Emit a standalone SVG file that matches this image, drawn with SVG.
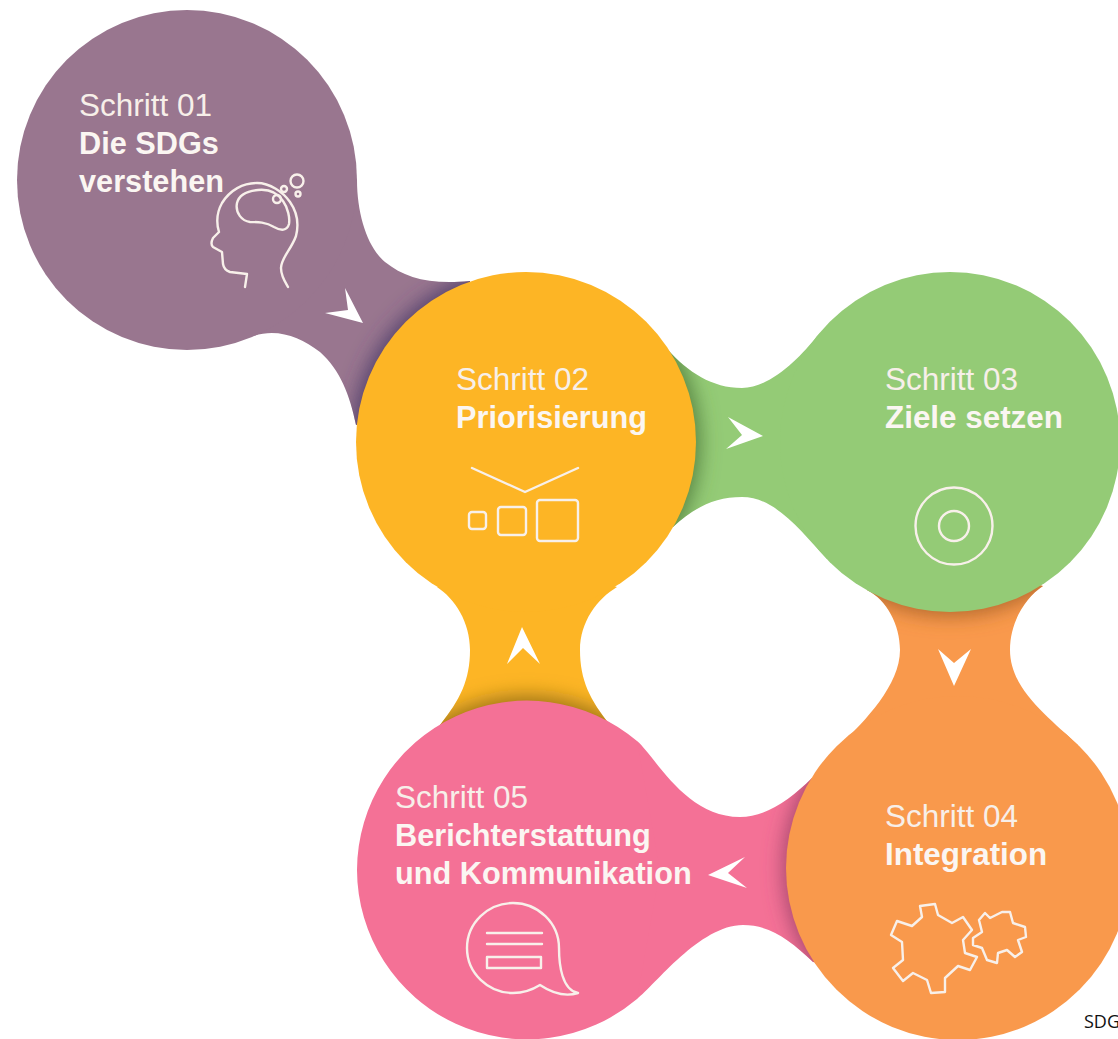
<svg xmlns="http://www.w3.org/2000/svg" width="1118" height="1039" viewBox="0 0 1118 1039">
<style>
.a{fill:#fff}
.ic{fill:none;stroke:#f8f0ea;stroke-width:2.4;stroke-linejoin:round;stroke-linecap:round}
.t{font-family:"Liberation Sans",Arial,sans-serif;font-size:31.5px;fill:#f7efe9}
.b{font-size:30.7px;font-weight:bold;fill:#fbf6f2}
.b2{font-size:31.4px}
.sh{fill-opacity:.9}
</style>
<defs>
<filter id="blur" x="-20%" y="-20%" width="140%" height="140%"><feGaussianBlur stdDeviation="10"/></filter>
<path id="np" d="M357,180C357,215 368,248 385,262C405,278 430,285 470,281L470,400L356,425C350,395 340,370 320,352C300,337 278,328 253,336L187,180Z"/>
<path id="ng" d="M668,350C688,372 712,388 742,388C770,388 800,358 817,336L837,318L900,440L827,559C800,530 775,497 742,497C715,497 695,507 673,527L660,440Z"/>
<path id="no" d="M867,590C887,600 900,625 900,650C900,685 865,721 840,745L1078,745C1050,718 1010,690 1010,650C1010,622 1025,598 1043,586L950,560Z"/>
<path id="nn" d="M637,741C655,756 685,817 740,817C765,817 790,800 812,778L830,790L830,965L813,962C790,940 770,925 743,925C700,925 655,985 637,999L600,870Z"/>
<path id="ny" d="M437,587C455,599 470,622 470,650C470,680 460,700 440,725L610,725C590,700 580,680 580,650C580,622 597,599 617,587L526,560Z"/>
<clipPath id="cp"><use href="#np"/></clipPath>
<clipPath id="cg"><use href="#ng"/></clipPath>
<clipPath id="co"><use href="#no"/></clipPath>
<clipPath id="cn"><use href="#nn"/></clipPath>
<clipPath id="cy"><use href="#ny"/></clipPath>
</defs>
<rect width="1118" height="1039" fill="#fff"/>
<g id="connectors">
<use href="#np" fill="#99768f"/>
<g clip-path="url(#cp)"><circle class="sh" cx="526" cy="442" r="174" fill="#4a3a68" filter="url(#blur)"/></g>
<use href="#ng" fill="#94cb76"/>
<g clip-path="url(#cg)"><circle class="sh" cx="526" cy="442" r="174" fill="#4f7a3c" filter="url(#blur)"/></g>
<use href="#no" fill="#f9994c"/>
<g clip-path="url(#co)"><circle class="sh" cx="950" cy="442" r="174" fill="#a8622a" filter="url(#blur)"/></g>
<use href="#nn" fill="#f47196"/>
<g clip-path="url(#cn)"><circle class="sh" cx="958" cy="868" r="175" fill="#9c4368" filter="url(#blur)"/></g>
<use href="#ny" fill="#fdb525"/>
<g clip-path="url(#cy)"><circle class="sh" cx="527" cy="870" r="174" fill="#8f6c18" filter="url(#blur)"/></g>
<path class="a" d="M363,323L345,288L348,310L325,313Z"/>
<path class="a" d="M763,436L728,417L742,435L726,449Z"/>
<path class="a" d="M954,686L938,649L954,663L971,649Z"/>
<path class="a" d="M708,875L745,857L728,873L747,888Z"/>
<path class="a" d="M522,627L507,664L523,648L540,664Z"/>
</g>
<g id="step1">
<circle cx="187" cy="180" r="170" fill="#99768f"/>
<text class="t" x="79" y="116">Schritt 01</text>
<text class="t b" x="79" y="154">Die SDGs</text>
<text class="t b" x="79" y="192">verstehen</text>
<path class="ic" d="M245,287L247,274L230,272Q224,270 223,264L222,252L213,247Q210,244 213,238L219,232C216,222 217,212 222,203C230,190 243,183 257,183C270,183 283,192 290,202C297,212 299,224 296,236C291,250 281,258 281,268C281,276 285,282 288,287"/>
<path class="ic" d="M237,203C239,195 247,191 258,190C268,189 277,192 283,201C288,208 290,218 289,224C287,231 281,231 274,227C266,222 258,222 250,222C242,221 235,213 237,203Z"/>
<circle class="ic" cx="297" cy="181" r="6.5"/>
<circle class="ic" cx="298" cy="194" r="2.5"/>
<circle class="ic" cx="284" cy="189" r="3"/>
<circle class="ic" cx="277" cy="199" r="4"/>
</g>
<g id="step2">
<circle cx="526" cy="442" r="170" fill="#fdb525"/>
<text class="t" x="456" y="390">Schritt 02</text>
<text class="t b" x="456" y="428">Priorisierung</text>
<path class="ic" d="M472,468L525,492L578,468"/>
<rect class="ic" x="469" y="512" width="17" height="17" rx="3"/>
<rect class="ic" x="498" y="507" width="28" height="28" rx="3"/>
<rect class="ic" x="537" y="500" width="41" height="41" rx="3"/>
</g>
<g id="step3">
<circle cx="950" cy="442" r="170" fill="#94cb76"/>
<text class="t" x="885" y="390">Schritt 03</text>
<text class="t b b2" x="885" y="428">Ziele setzen</text>
<circle class="ic" cx="954" cy="526" r="38.5"/>
<circle class="ic" cx="954" cy="526" r="15"/>
</g>
<g id="step4">
<circle cx="958" cy="868" r="172" fill="#f9994c"/>
<text class="t" x="885" y="827">Schritt 04</text>
<text class="t b b2" x="885" y="865">Integration</text>
<path class="ic" d="M920,906L935,904L938,915L952,923L963,917L972,930L963,940L965,953L977,957L970,970L958,966L945,978L945,992L931,993L927,980L913,973L903,981L893,968L903,960L902,942L891,935L897,921L912,926L922,917Z"/>
<path class="ic" d="M985,913L990,918L1002,912L1010,912L1013,923L1025,927L1026,937L1018,940L1022,952L1015,957L1007,950L998,953L997,963L987,960L982,948L973,945L973,938L982,932L979,920Z"/>
</g>
<g id="step5">
<path fill="#f47196" d="M357,870A170,170 0 0 1 637,741L660,870L637,999A170,170 0 0 1 357,870Z"/>
<text class="t" x="395" y="808">Schritt 05</text>
<text class="t b" x="395" y="846">Berichterstattung</text>
<text class="t b" x="395" y="884">und Kommunikation</text>
<path class="ic" d="M540,985C532,990 522,993 513,993C488,993 467,973 467,948C467,923 488,903 513,903C538,903 559,923 559,948C559,965 562,990 578,993C565,997 552,993 540,985Z"/>
<path class="ic" d="M487,933H542M487,944H542"/>
<rect class="ic" x="487" y="957" width="54" height="11"/>
</g>
<text x="1084" y="1028" font-family="'Open Sans',sans-serif" font-size="18" fill="#111">SDG</text>
</svg>
